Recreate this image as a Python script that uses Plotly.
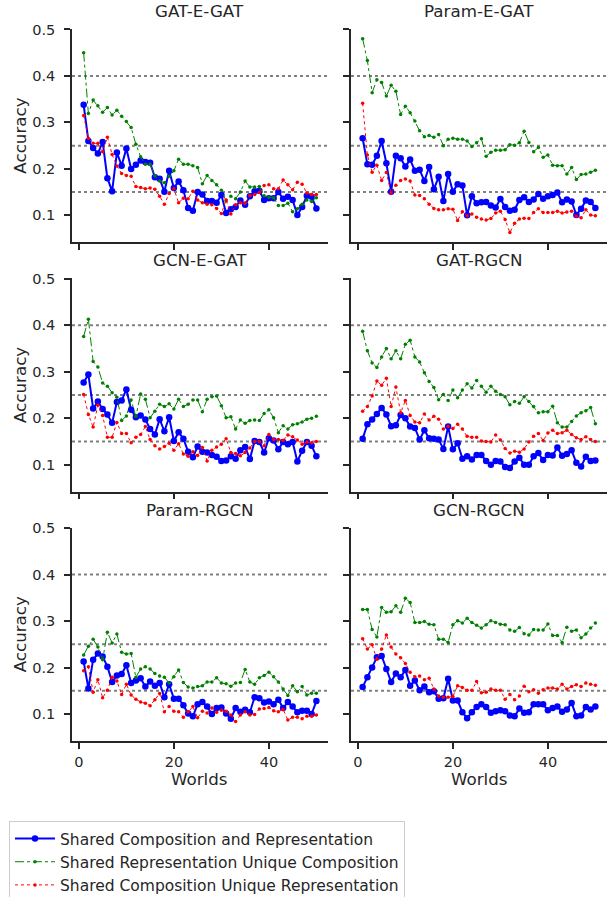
import plotly.graph_objects as go
from plotly.subplots import make_subplots

WORLDS = list(range(1, 51))

PANEL_TITLES = ["GAT-E-GAT", "Param-E-GAT", "GCN-E-GAT", "GAT-RGCN", "Param-RGCN", "GCN-RGCN"]

SERIES_NAMES = [
    "Shared Composition and Representation",
    "Shared Representation Unique Composition",
    "Shared Composition Unique Representation",
]

# GAT-E-GAT
gat_egat_shared = [0.338, 0.260, 0.245, 0.233, 0.258, 0.180, 0.152, 0.235, 0.207, 0.244,
                   0.200, 0.209, 0.218, 0.215, 0.213, 0.182, 0.179, 0.151, 0.196, 0.159,
                   0.173, 0.154, 0.116, 0.110, 0.150, 0.145, 0.131, 0.131, 0.127, 0.144,
                   0.105, 0.113, 0.118, 0.132, 0.123, 0.141, 0.152, 0.153, 0.133, 0.137,
                   0.137, 0.150, 0.136, 0.140, 0.133, 0.101, 0.118, 0.142, 0.140, 0.115]
gat_egat_uniq_comp = [0.450, 0.319, 0.348, 0.336, 0.322, 0.332, 0.316, 0.326, 0.313, 0.302,
                      0.289, 0.253, 0.226, 0.210, 0.210, 0.185, 0.174, 0.170, 0.184, 0.196,
                      0.221, 0.210, 0.210, 0.207, 0.203, 0.168, 0.186, 0.175, 0.166, 0.154,
                      0.131, 0.141, 0.136, 0.150, 0.174, 0.161, 0.161, 0.162, 0.142, 0.139,
                      0.138, 0.121, 0.121, 0.126, 0.108, 0.114, 0.124, 0.133, 0.130, 0.138]
gat_egat_uniq_rep = [0.315, 0.266, 0.255, 0.255, 0.237, 0.268, 0.231, 0.206, 0.190, 0.186,
                     0.184, 0.162, 0.160, 0.157, 0.159, 0.156, 0.141, 0.124, 0.147, 0.157,
                     0.127, 0.137, 0.136, 0.152, 0.133, 0.127, 0.124, 0.123, 0.115, 0.104,
                     0.133, 0.103, 0.123, 0.127, 0.126, 0.143, 0.145, 0.149, 0.164, 0.166,
                     0.157, 0.157, 0.176, 0.166, 0.155, 0.171, 0.167, 0.148, 0.145, 0.145]

# Param-E-GAT
param_egat_shared = [0.266, 0.210, 0.209, 0.228, 0.260, 0.212, 0.151, 0.228, 0.223, 0.205,
                     0.220, 0.196, 0.198, 0.174, 0.204, 0.156, 0.183, 0.131, 0.189, 0.151,
                     0.167, 0.164, 0.100, 0.141, 0.126, 0.128, 0.129, 0.121, 0.117, 0.135,
                     0.118, 0.110, 0.112, 0.133, 0.139, 0.129, 0.134, 0.146, 0.136, 0.141,
                     0.144, 0.149, 0.128, 0.134, 0.130, 0.101, 0.114, 0.132, 0.129, 0.116]
param_egat_uniq_comp = [0.480, 0.433, 0.364, 0.392, 0.386, 0.357, 0.380, 0.367, 0.317, 0.335,
                        0.321, 0.303, 0.282, 0.269, 0.272, 0.268, 0.274, 0.250, 0.264, 0.266,
                        0.264, 0.264, 0.260, 0.248, 0.256, 0.265, 0.227, 0.236, 0.240, 0.240,
                        0.241, 0.252, 0.251, 0.256, 0.281, 0.257, 0.237, 0.246, 0.225, 0.230,
                        0.208, 0.207, 0.207, 0.189, 0.203, 0.177, 0.188, 0.189, 0.193, 0.197]
param_egat_uniq_rep = [0.341, 0.230, 0.193, 0.208, 0.175, 0.192, 0.148, 0.165, 0.175, 0.178,
                       0.174, 0.144, 0.143, 0.136, 0.124, 0.115, 0.112, 0.112, 0.114, 0.113,
                       0.089, 0.108, 0.099, 0.103, 0.096, 0.092, 0.090, 0.093, 0.105, 0.109,
                       0.091, 0.063, 0.083, 0.092, 0.094, 0.093, 0.106, 0.114, 0.106, 0.106,
                       0.106, 0.109, 0.105, 0.107, 0.109, 0.098, 0.095, 0.112, 0.101, 0.099]

# GCN-E-GAT
gcn_egat_shared = [0.277, 0.294, 0.221, 0.236, 0.220, 0.208, 0.190, 0.235, 0.238, 0.262,
                   0.218, 0.202, 0.206, 0.197, 0.177, 0.165, 0.198, 0.172, 0.202, 0.151,
                   0.170, 0.156, 0.128, 0.116, 0.139, 0.128, 0.126, 0.121, 0.117, 0.108,
                   0.109, 0.118, 0.113, 0.131, 0.138, 0.112, 0.151, 0.149, 0.126, 0.157,
                   0.152, 0.133, 0.149, 0.144, 0.149, 0.107, 0.130, 0.149, 0.141, 0.118]
gcn_egat_uniq_comp = [0.376, 0.413, 0.322, 0.310, 0.276, 0.269, 0.255, 0.245, 0.195, 0.205,
                      0.239, 0.204, 0.252, 0.241, 0.201, 0.215, 0.230, 0.225, 0.231, 0.220,
                      0.241, 0.225, 0.230, 0.239, 0.239, 0.214, 0.241, 0.246, 0.248, 0.227,
                      0.201, 0.203, 0.177, 0.196, 0.189, 0.195, 0.196, 0.195, 0.210, 0.218,
                      0.201, 0.169, 0.184, 0.177, 0.186, 0.188, 0.192, 0.198, 0.200, 0.204]
gcn_egat_uniq_rep = [0.251, 0.208, 0.181, 0.228, 0.206, 0.159, 0.159, 0.191, 0.167, 0.167,
                     0.147, 0.159, 0.165, 0.182, 0.154, 0.141, 0.134, 0.139, 0.146, 0.131,
                     0.145, 0.123, 0.118, 0.128, 0.120, 0.137, 0.108, 0.131, 0.138, 0.144,
                     0.156, 0.126, 0.124, 0.119, 0.126, 0.136, 0.150, 0.150, 0.141, 0.165,
                     0.154, 0.154, 0.152, 0.164, 0.160, 0.153, 0.144, 0.149, 0.147, 0.150]

# GAT-RGCN
gat_rgcn_shared = [0.156, 0.187, 0.197, 0.209, 0.222, 0.208, 0.183, 0.185, 0.207, 0.200,
                   0.182, 0.179, 0.154, 0.174, 0.157, 0.156, 0.154, 0.134, 0.182, 0.133,
                   0.146, 0.113, 0.118, 0.111, 0.121, 0.121, 0.108, 0.100, 0.108, 0.107,
                   0.095, 0.093, 0.107, 0.115, 0.100, 0.100, 0.118, 0.125, 0.110, 0.121,
                   0.120, 0.137, 0.119, 0.123, 0.131, 0.104, 0.096, 0.117, 0.108, 0.109]
gat_rgcn_uniq_comp = [0.387, 0.345, 0.319, 0.309, 0.332, 0.350, 0.328, 0.345, 0.328, 0.359,
                      0.368, 0.332, 0.321, 0.298, 0.279, 0.266, 0.240, 0.251, 0.238, 0.261,
                      0.244, 0.261, 0.274, 0.265, 0.281, 0.269, 0.256, 0.269, 0.258, 0.251,
                      0.246, 0.229, 0.236, 0.232, 0.246, 0.236, 0.225, 0.212, 0.214, 0.214,
                      0.226, 0.190, 0.181, 0.181, 0.193, 0.205, 0.212, 0.216, 0.223, 0.188]
gat_rgcn_uniq_rep = [0.215, 0.225, 0.248, 0.280, 0.271, 0.286, 0.225, 0.267, 0.212, 0.238,
                     0.206, 0.192, 0.190, 0.209, 0.196, 0.204, 0.198, 0.177, 0.183, 0.178,
                     0.187, 0.177, 0.161, 0.159, 0.159, 0.151, 0.150, 0.149, 0.164, 0.153,
                     0.135, 0.125, 0.129, 0.127, 0.134, 0.149, 0.161, 0.167, 0.152, 0.168,
                     0.174, 0.167, 0.169, 0.174, 0.165, 0.158, 0.154, 0.160, 0.154, 0.150]

# Param-RGCN
param_rgcn_shared = [0.213, 0.155, 0.217, 0.230, 0.224, 0.202, 0.169, 0.183, 0.186, 0.205,
                     0.167, 0.172, 0.177, 0.159, 0.170, 0.161, 0.167, 0.136, 0.164, 0.133,
                     0.133, 0.119, 0.101, 0.095, 0.121, 0.126, 0.116, 0.100, 0.113, 0.114,
                     0.101, 0.090, 0.113, 0.105, 0.109, 0.104, 0.136, 0.134, 0.125, 0.127,
                     0.121, 0.131, 0.113, 0.126, 0.116, 0.104, 0.107, 0.107, 0.100, 0.128]
param_rgcn_uniq_comp = [0.227, 0.246, 0.261, 0.244, 0.217, 0.276, 0.253, 0.272, 0.233, 0.229,
                        0.230, 0.179, 0.197, 0.202, 0.197, 0.187, 0.182, 0.179, 0.167, 0.180,
                        0.195, 0.168, 0.158, 0.156, 0.159, 0.161, 0.169, 0.169, 0.178, 0.167,
                        0.165, 0.160, 0.167, 0.168, 0.196, 0.169, 0.164, 0.178, 0.183, 0.190,
                        0.180, 0.169, 0.154, 0.140, 0.161, 0.148, 0.159, 0.141, 0.145, 0.145]
param_rgcn_uniq_rep = [0.193, 0.202, 0.147, 0.174, 0.135, 0.151, 0.179, 0.171, 0.142, 0.164,
                       0.141, 0.132, 0.126, 0.123, 0.118, 0.131, 0.144, 0.105, 0.116, 0.106,
                       0.105, 0.093, 0.105, 0.116, 0.092, 0.106, 0.102, 0.113, 0.104, 0.108,
                       0.106, 0.098, 0.084, 0.098, 0.105, 0.098, 0.099, 0.111, 0.112, 0.114,
                       0.107, 0.105, 0.110, 0.087, 0.093, 0.093, 0.090, 0.095, 0.095, 0.098]

# GCN-RGCN
gcn_rgcn_shared = [0.158, 0.179, 0.200, 0.222, 0.225, 0.197, 0.169, 0.187, 0.179, 0.195,
                   0.161, 0.172, 0.151, 0.159, 0.147, 0.149, 0.133, 0.134, 0.176, 0.129,
                   0.129, 0.104, 0.091, 0.104, 0.115, 0.121, 0.115, 0.103, 0.106, 0.108,
                   0.106, 0.097, 0.095, 0.112, 0.103, 0.104, 0.121, 0.121, 0.121, 0.108,
                   0.113, 0.116, 0.105, 0.110, 0.124, 0.095, 0.097, 0.115, 0.110, 0.116]
gcn_rgcn_uniq_comp = [0.325, 0.325, 0.282, 0.266, 0.329, 0.319, 0.320, 0.333, 0.319, 0.349,
                      0.340, 0.297, 0.297, 0.299, 0.293, 0.292, 0.261, 0.261, 0.254, 0.292,
                      0.301, 0.296, 0.306, 0.297, 0.291, 0.285, 0.292, 0.301, 0.297, 0.293,
                      0.292, 0.281, 0.278, 0.286, 0.273, 0.270, 0.282, 0.281, 0.281, 0.294,
                      0.269, 0.269, 0.254, 0.287, 0.278, 0.281, 0.264, 0.272, 0.285, 0.296]
gcn_rgcn_uniq_rep = [0.262, 0.240, 0.249, 0.218, 0.240, 0.270, 0.244, 0.229, 0.221, 0.209,
                     0.190, 0.180, 0.182, 0.174, 0.177, 0.154, 0.139, 0.136, 0.136, 0.138,
                     0.161, 0.157, 0.151, 0.151, 0.170, 0.146, 0.147, 0.154, 0.151, 0.151,
                     0.132, 0.142, 0.131, 0.139, 0.160, 0.148, 0.152, 0.145, 0.152, 0.156,
                     0.156, 0.154, 0.164, 0.154, 0.159, 0.163, 0.159, 0.167, 0.164, 0.162]

PANELS = [
    (gat_egat_shared, gat_egat_uniq_comp, gat_egat_uniq_rep),
    (param_egat_shared, param_egat_uniq_comp, param_egat_uniq_rep),
    (gcn_egat_shared, gcn_egat_uniq_comp, gcn_egat_uniq_rep),
    (gat_rgcn_shared, gat_rgcn_uniq_comp, gat_rgcn_uniq_rep),
    (param_rgcn_shared, param_rgcn_uniq_comp, param_rgcn_uniq_rep),
    (gcn_rgcn_shared, gcn_rgcn_uniq_comp, gcn_rgcn_uniq_rep),
]

REFERENCE_LEVELS = [0.15, 0.25, 0.4]

TEXT_COLOR = "#262626"
FONT = "DejaVu Sans"

STYLES = [
    {"line": {"color": "#0000FF", "width": 2, "dash": "solid"}, "marker": {"color": "#0000FF", "size": 6.5}},
    {"line": {"color": "#008000", "width": 1, "dash": "dashdot"}, "marker": {"color": "#008000", "size": 3.5}},
    {"line": {"color": "#FF0000", "width": 1, "dash": "dot"}, "marker": {"color": "#FF0000", "size": 3.5}},
]

fig = make_subplots(
    rows=3,
    cols=2,
    horizontal_spacing=0.043,
    vertical_spacing=0.0506,
    subplot_titles=PANEL_TITLES,
)

for index, series in enumerate(PANELS):
    row = index // 2 + 1
    col = index % 2 + 1
    for values, name, style in zip(series, SERIES_NAMES, STYLES):
        fig.add_trace(
            go.Scatter(
                x=WORLDS,
                y=values,
                mode="lines+markers",
                name=name,
                line=style["line"],
                marker=style["marker"],
                showlegend=index == 0,
            ),
            row=row,
            col=col,
        )
    for level in REFERENCE_LEVELS:
        fig.add_hline(
            y=level,
            row=row,
            col=col,
            layer="below",
            line={"color": "#808080", "width": 2, "dash": "dot"},
        )

axis_common = {
    "showline": True,
    "linecolor": TEXT_COLOR,
    "linewidth": 1.5,
    "ticks": "outside",
    "ticklen": 6,
    "tickwidth": 1.5,
    "tickcolor": TEXT_COLOR,
    "showgrid": False,
    "zeroline": False,
    "tickfont": {"size": 14.5, "color": TEXT_COLOR, "family": FONT},
}

fig.update_xaxes(**axis_common, range=[-1.45, 52.45], tickvals=[0, 20, 40], ticklabelstandoff=1)
fig.update_yaxes(**axis_common, range=[0.042, 0.501], tickvals=[0.1, 0.2, 0.3, 0.4, 0.5], ticklabelstandoff=6)
for row in (1, 2):
    fig.update_xaxes(showticklabels=False, row=row)
fig.update_yaxes(showticklabels=False, col=2)

title_font = {"size": 16.7, "color": TEXT_COLOR, "family": FONT}
for annotation in fig.layout.annotations:
    annotation.font = title_font
    annotation.yshift = 6

row_domains = [fig.layout.yaxis.domain, fig.layout.yaxis3.domain, fig.layout.yaxis5.domain]
for domain in row_domains:
    fig.add_annotation(
        text="Accuracy",
        xref="paper",
        yref="paper",
        x=-0.0972,
        y=(domain[0] + domain[1]) / 2,
        xanchor="center",
        yanchor="middle",
        textangle=-90,
        showarrow=False,
        font=title_font,
    )
for domain in (fig.layout.xaxis5.domain, fig.layout.xaxis6.domain):
    fig.add_annotation(
        text="Worlds",
        xref="paper",
        yref="paper",
        x=(domain[0] + domain[1]) / 2,
        y=0,
        yshift=-38,
        xanchor="center",
        yanchor="middle",
        showarrow=False,
        font=title_font,
    )

fig.update_layout(
    width=610,
    height=897,
    margin={"l": 72, "r": 3, "t": 29, "b": 156, "autoexpand": False},
    plot_bgcolor="white",
    paper_bgcolor="white",
    font={"family": FONT, "color": TEXT_COLOR, "size": 14.5},
    legend={
        "xref": "container",
        "yref": "container",
        "x": 9 / 610,
        "y": 1 - 821 / 897,
        "xanchor": "left",
        "yanchor": "top",
        "bordercolor": "#cccccc",
        "borderwidth": 1,
        "itemwidth": 40,
        "font": {"size": 15.5, "color": TEXT_COLOR, "family": FONT},
        "tracegroupgap": 0,
    },
)

# drop the default page margin so the figure sits at the window's corner
fig.write_html(
    "out.html",
    config={"displayModeBar": False},
    post_script="document.body.style.margin = '0';",
)
